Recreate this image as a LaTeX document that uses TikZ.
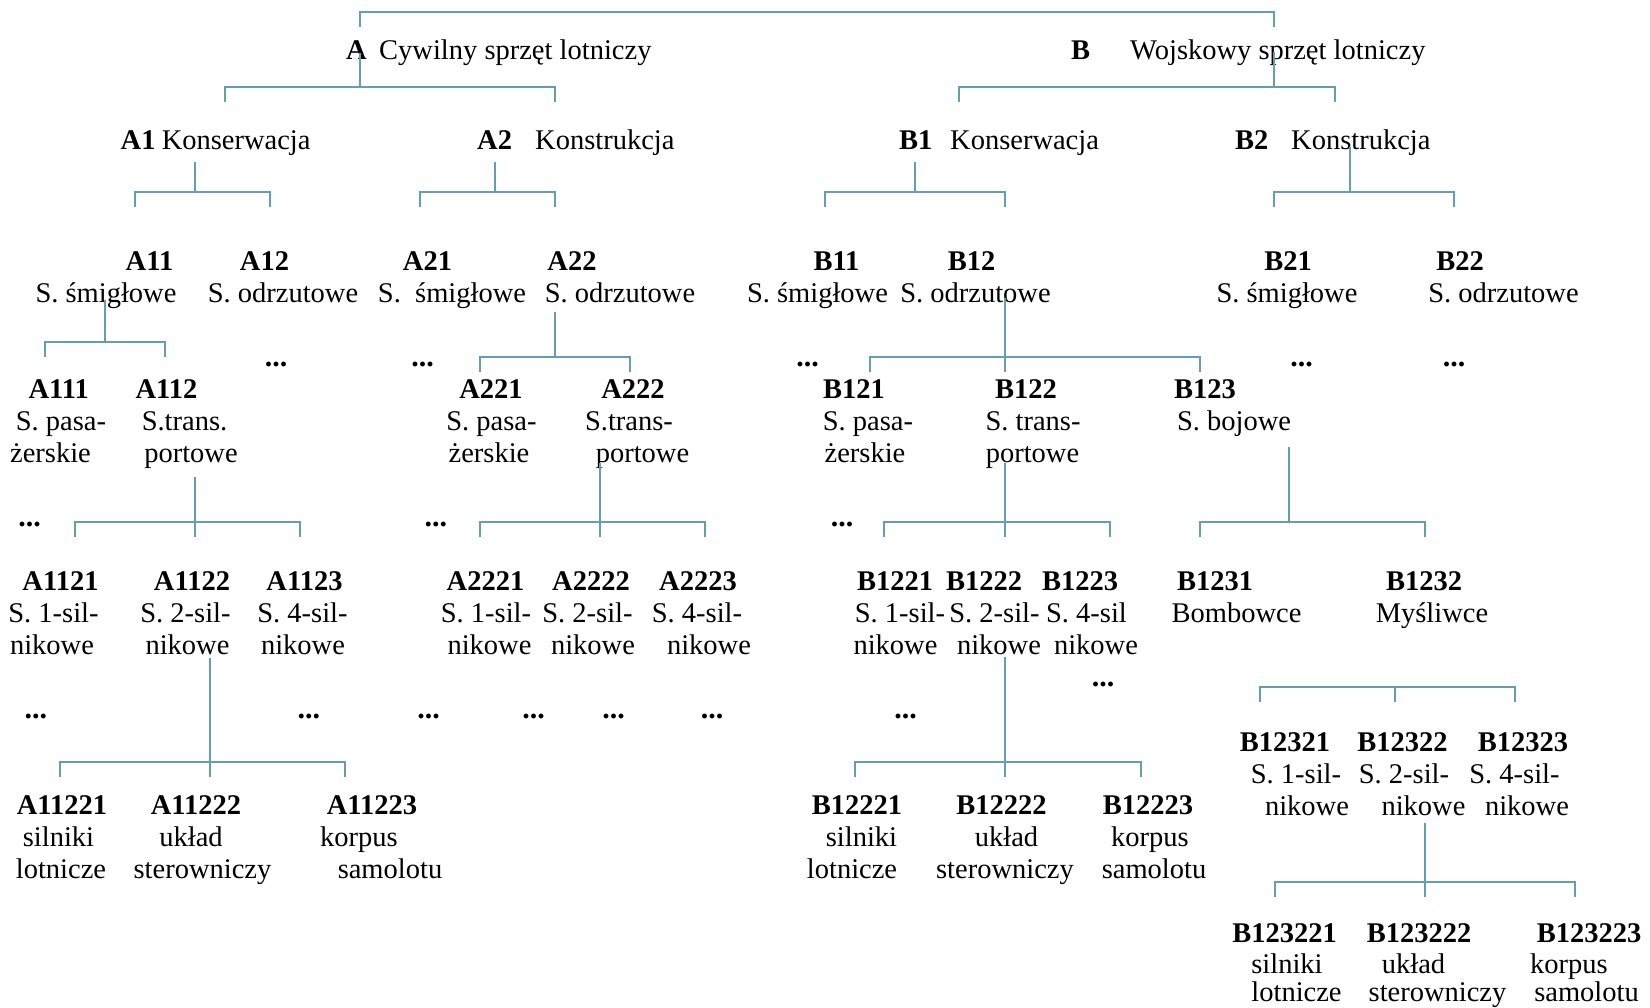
\documentclass[tikz,border=0pt]{standalone}
\usepackage{fontspec}
\setmainfont{Liberation Serif}
\definecolor{linkc}{RGB}{102,158,174}
\tikzset{
  link/.style={draw=linkc, line width=2pt},
  desc/.style={anchor=base, inner sep=0pt, font=\fontsize{28.5}{32}\selectfont},
  idx/.style={desc, font=\fontsize{28.5}{32}\selectfont\bfseries},
  ellip/.style={desc, font=\fontsize{30}{32}\selectfont\bfseries},
}
% fork: name, stem x, stem top y, bar y, left drop x, right drop x
\newcommand\fork[6]{%
  \coordinate (#1-s) at (#2,#3);
  \coordinate (#1-j) at (#2,#4);
  \coordinate (#1-l) at (#5,#4+15);
  \coordinate (#1-r) at (#6,#4+15);
  \draw[link] (#1-s) -- (#1-j);
  \draw[link] (#1-l) -- ++(0,-15) -| (#1-r);
}
% fork with a third drop under the stem
\newcommand\forkm[6]{%
  \fork{#1}{#2}{#3}{#4}{#5}{#6}
  \draw[link] (#1-j) -- ++(0,15);
}
% block: name, code x, baseline y, code, line1 x, line1, line2 x, line2
\newcommand\blk[8]{%
  \node[idx] (#1) at (#2,#3) {#4};
  \node[desc] (#1-a) at (#5,#3+32) {#6};
  \node[desc] (#1-b) at (#7,#3+64) {#8};
}
\newcommand\blks[6]{%
  \node[idx] (#1) at (#2,#3) {#4};
  \node[desc] (#1-a) at (#5,#3+32) {#6};
}
% bottom block, last line set a little tighter
\newcommand\blkb[8]{%
  \node[idx] (#1) at (#2,#3) {#4};
  \node[desc] (#1-a) at (#5,#3+31) {#6};
  \node[desc] (#1-b) at (#7,#3+59) {#8};
}
\begin{document}
\begin{tikzpicture}[x=1pt,y=-1pt]
\useasboundingbox (0,0) rectangle (1650,1008);

\begin{scope}[shift={(0,1.5)}]
% ---- level 0
\node[idx, anchor=base west] (A) at (346,58) {A};
\node[desc, anchor=base west] (A-t) at (379,58) {Cywilny sprzęt lotniczy};
\node[idx, anchor=base west] (B) at (1071,58) {B};
\node[desc, anchor=base west] (B-t) at (1130,58) {Wojskowy sprzęt lotniczy};

% ---- level 1
\node[idx, anchor=base west] (A1) at (120.5,148) {A1};
\node[desc, anchor=base west] (A1-t) at (161.6,148) {Konserwacja};
\node[idx, anchor=base west] (A2) at (477,148) {A2};
\node[desc, anchor=base west] (A2-t) at (535,148) {Konstrukcja};
\node[idx, anchor=base west] (B1) at (899,148) {B1};
\node[desc, anchor=base west] (B1-t) at (950,148) {Konserwacja};
\node[idx, anchor=base west] (B2) at (1235,148) {B2};
\node[desc, anchor=base west] (B2-t) at (1291,148) {Konstrukcja};

% ---- level 2
\node[idx] (A11) at (149.5,269) {A11};  \node[desc] (A11-a) at (106,301) {S. śmigłowe};
\node[idx] (A12) at (264.5,269) {A12};  \node[desc] (A12-a) at (283,301) {S. odrzutowe};
\node[idx] (A21) at (427.5,269) {A21};  \node[desc] (A21-a) at (452,301) {S.\ \ śmigłowe};
\node[idx] (A22) at (572,269) {A22};    \node[desc] (A22-a) at (620,301) {S. odrzutowe};
\node[idx] (B11) at (836.5,269) {B11};  \node[desc] (B11-a) at (817.5,301) {S. śmigłowe};
\node[idx] (B12) at (971.5,269) {B12};  \node[desc] (B12-a) at (975.5,301) {S. odrzutowe};
\node[idx] (B21) at (1288,269) {B21};   \node[desc] (B21-a) at (1287,301) {S. śmigłowe};
\node[idx] (B22) at (1460,269) {B22};   \node[desc] (B22-a) at (1503.5,301) {S. odrzutowe};

% ---- level 3
\blk{A111}{58.7}{397}{A111}{61}{S. pasa-}{50.5}{żerskie}
\blk{A112}{166.5}{397}{A112}{184.5}{S.trans.}{191}{portowe}
\blk{A221}{491}{397}{A221}{491.5}{S. pasa-}{489}{żerskie}
\blk{A222}{633}{397}{A222}{629}{S.trans-}{642.5}{portowe}
\blk{B121}{854}{397}{B121}{868}{S. pasa-}{865}{żerskie}
\blk{B122}{1026}{397}{B122}{1033}{S. trans-}{1032.5}{portowe}
\blks{B123}{1205}{397}{B123}{1234}{S. bojowe}
\node[ellip] (e1) at (276,365) {...};
\node[ellip] (e2) at (422.5,365) {...};
\node[ellip] (e3) at (807.7,365) {...};
\node[ellip] (e4) at (1301.5,365) {...};
\node[ellip] (e5) at (1454,365) {...};

% ---- level 4
\blk{A1121}{60.5}{589}{A1121}{53.5}{S. 1-sil-}{52}{nikowe}
\blk{A1122}{192}{589}{A1122}{185.5}{S. 2-sil-}{187.5}{nikowe}
\blk{A1123}{304.5}{589}{A1123}{302.5}{S. 4-sil-}{303}{nikowe}
\blk{A2221}{485.5}{589}{A2221}{486}{S. 1-sil-}{489.5}{nikowe}
\blk{A2222}{591}{589}{A2222}{587.5}{S. 2-sil-}{593}{nikowe}
\blk{A2223}{698}{589}{A2223}{697}{S. 4-sil-}{709}{nikowe}
\blk{B1221}{895}{589}{B1221}{900}{S. 1-sil-}{895.5}{nikowe}
\blk{B1222}{984}{589}{B1222}{994.5}{S. 2-sil-}{999}{nikowe}
\blk{B1223}{1080}{589}{B1223}{1086.5}{S. 4-sil}{1096}{nikowe}
\blks{B1231}{1215}{589}{B1231}{1236.5}{Bombowce}
\blks{B1232}{1424}{589}{B1232}{1432}{Myśliwce}
\node[ellip] (e6) at (29.5,525) {...};
\node[ellip] (e7) at (435.8,525) {...};
\node[ellip] (e8) at (842,525) {...};

% ---- level 5
\blk{A11221}{62}{813}{A11221}{58.5}{silniki}{61}{lotnicze}
\blk{A11222}{196}{813}{A11222}{191}{układ}{202.5}{sterowniczy}
\blk{A11223}{372}{813}{A11223}{359}{korpus}{390}{samolotu}
\blk{B12221}{857}{813}{B12221}{861.5}{silniki}{852}{lotnicze}
\blk{B12222}{1001.5}{813}{B12222}{1006.5}{układ}{1005}{sterowniczy}
\blk{B12223}{1148}{813}{B12223}{1150}{korpus}{1154}{samolotu}
\blk{B12321}{1285}{750}{B12321}{1296}{S. 1-sil-}{1307}{nikowe}
\blk{B12322}{1402.5}{750}{B12322}{1404}{S. 2-sil-}{1423.5}{nikowe}
\blk{B12323}{1523}{750}{B12323}{1514.5}{S. 4-sil-}{1527}{nikowe}
\node[ellip] (e9) at (35.8,717) {...};
\node[ellip] (e10) at (308.8,717) {...};
\node[ellip] (e11) at (428.5,717) {...};
\node[ellip] (e12) at (533.5,717) {...};
\node[ellip] (e13) at (613.5,717) {...};
\node[ellip] (e14) at (712,717) {...};
\node[ellip] (e15) at (905.6,717) {...};
\node[ellip] (e16) at (1103,685) {...};
\end{scope}

% ---- level 6
\blkb{B123221}{1284.5}{942}{B123221}{1287}{silniki}{1296.5}{lotnicze}
\blkb{B123222}{1419}{942}{B123222}{1413.5}{układ}{1437.5}{sterowniczy}
\blkb{B123223}{1589}{942}{B123223}{1569}{korpus}{1586.5}{samolotu}

% ---- connectors
\coordinate (top-l) at (360,27);
\coordinate (top-r) at (1274,27);
\draw[link] (top-l) -- ++(0,-15) -| (top-r);
\fork{fA}{360}{53}{87}{224.5}{555}
\fork{fB}{1274}{52}{87}{959}{1335}
\fork{fA1}{195}{162}{192}{135}{270}
\fork{fA2}{494.6}{162}{192}{419.6}{555}
\fork{fB1}{915}{162}{192}{825}{1005}
\fork{fB2}{1349.5}{147}{192}{1274}{1454}
\fork{fA11}{105}{300}{342}{45}{165}
\fork{fA22}{555}{312}{357}{480}{630}
\forkm{fB12}{1005}{298}{357}{870}{1200}
\forkm{fA112}{195}{477}{522}{75}{300}
\forkm{fA222}{600}{463}{522}{480}{705}
\forkm{fB122}{1005}{463}{522}{884}{1110}
\fork{fB123}{1289}{447}{522}{1200}{1425}
\forkm{fA1122}{210}{658}{762}{60}{345}
\forkm{fB1222}{1005}{657}{762}{855}{1141}
\forkm{fB1232}{1395}{687}{687}{1260}{1515}
\forkm{fB12322}{1425}{823}{882}{1275}{1575}
\end{tikzpicture}
\end{document}
